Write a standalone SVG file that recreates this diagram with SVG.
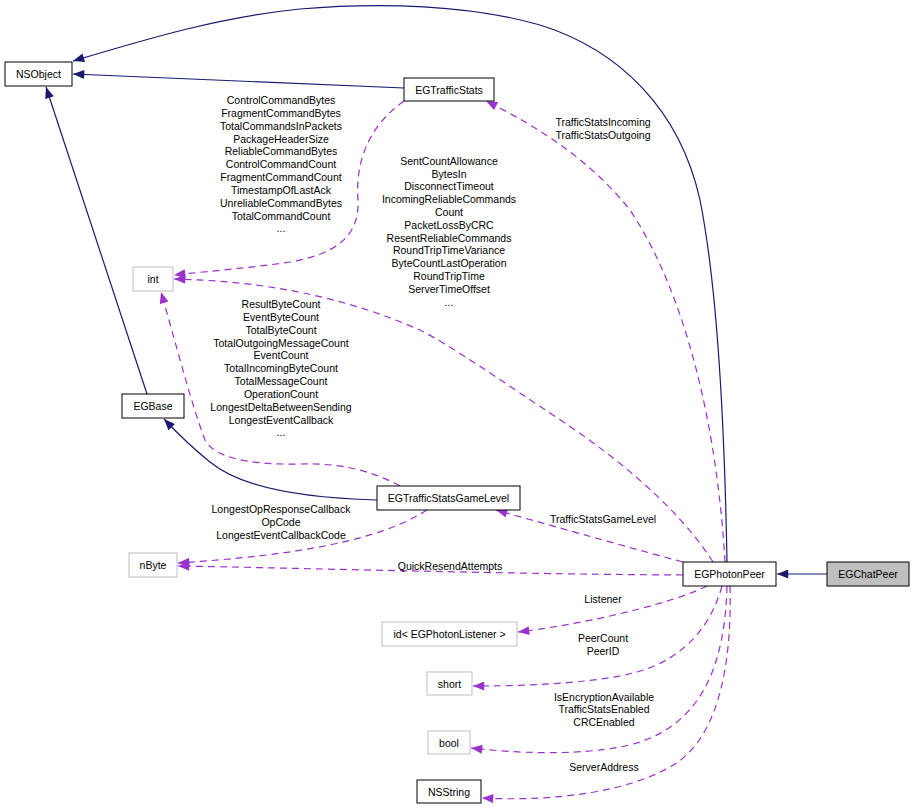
<svg xmlns="http://www.w3.org/2000/svg" width="915" height="810" viewBox="0 0 915 810">
<style>
text{font-family:"Liberation Sans",Arial,sans-serif;font-size:10.5px;fill:#000;text-anchor:middle}
.n rect{fill:#fff;stroke:#000;stroke-width:1}
.g rect{fill:#fff;stroke:#bfbfbf;stroke-width:1}
.inh{fill:none;stroke:#191970;stroke-width:1.2}
.use{fill:none;stroke:#9a32cd;stroke-width:1.2;stroke-dasharray:7,5}
</style>
<defs>
<marker id="ab" viewBox="0 0 10 8" refX="10" refY="4" markerWidth="12" markerHeight="9" markerUnits="userSpaceOnUse" orient="auto"><path d="M0,0 L10,4 L0,8 z" fill="#191970"/></marker>
<marker id="ap" viewBox="0 0 10 8" refX="10" refY="4" markerWidth="12" markerHeight="9" markerUnits="userSpaceOnUse" orient="auto"><path d="M0,0 L10,4 L0,8 z" fill="#9a32cd"/></marker>
</defs>
<rect width="915" height="810" fill="#fff"/>
<g id="connectors">
<path class="inh" marker-end="url(#ab)" d="M727,562 C725,450 720,300 700,200 C680,110 620,50 540,25 C470,5 380,2 300,9 C220,17 150,38 73,61"/>
<path class="inh" marker-end="url(#ab)" d="M404,88 L73,74"/>
<path class="inh" marker-end="url(#ab)" d="M147,394 L46,87"/>
<path class="inh" marker-end="url(#ab)" d="M377,500 C300,498 240,487 210,462 C195,450 180,436 164,419"/>
<path class="inh" marker-end="url(#ab)" d="M827,574 L777,574"/>
<path class="use" marker-end="url(#ap)" d="M404,101 C370,125 355,160 358,200 C360,240 330,255 290,262 C250,268 210,271 174,275"/>
<path class="use" marker-end="url(#ap)" d="M713,562 C680,510 620,460 565,423 C500,380 450,345 420,330 C340,295 260,281 174,279"/>
<path class="use" marker-end="url(#ap)" d="M400,486 C370,470 340,463 300,464 C240,465 213,455 205,440 C190,400 175,340 161,292"/>
<path class="use" marker-end="url(#ap)" d="M725,562 C718,440 690,300 630,210 C590,160 540,128 486,101"/>
<path class="use" marker-end="url(#ap)" d="M683,562 C620,545 560,528 496,510"/>
<path class="use" marker-end="url(#ap)" d="M427,510 C380,540 300,555 178,563"/>
<path class="use" marker-end="url(#ap)" d="M683,575 C500,574 300,568 178,566"/>
<path class="use" marker-end="url(#ap)" d="M707,586 C680,600 600,622 518,632"/>
<path class="use" marker-end="url(#ap)" d="M722,586 C710,630 680,660 637,672 C600,682 540,686 473,686"/>
<path class="use" marker-end="url(#ap)" d="M727,586 C725,660 705,720 640,742 C600,755 530,755 471,748"/>
<path class="use" marker-end="url(#ap)" d="M730,586 C732,660 720,740 670,767 C630,790 560,802 482,798"/>
</g>
<g id="labels">
<text x="281" y="104">ControlCommandBytes</text>
<text x="281" y="117">FragmentCommandBytes</text>
<text x="281" y="130">TotalCommandsInPackets</text>
<text x="281" y="143">PackageHeaderSize</text>
<text x="281" y="155">ReliableCommandBytes</text>
<text x="281" y="168">ControlCommandCount</text>
<text x="281" y="181">FragmentCommandCount</text>
<text x="281" y="194">TimestampOfLastAck</text>
<text x="281" y="207">UnreliableCommandBytes</text>
<text x="281" y="220">TotalCommandCount</text>
<text x="281" y="232">...</text>
<text x="449" y="165">SentCountAllowance</text>
<text x="449" y="178">BytesIn</text>
<text x="449" y="190">DisconnectTimeout</text>
<text x="449" y="203">IncomingReliableCommands</text>
<text x="449" y="216">Count</text>
<text x="449" y="229">PacketLossByCRC</text>
<text x="449" y="242">ResentReliableCommands</text>
<text x="449" y="254">RoundTripTimeVariance</text>
<text x="449" y="267">ByteCountLastOperation</text>
<text x="449" y="280">RoundTripTime</text>
<text x="449" y="293">ServerTimeOffset</text>
<text x="449" y="306">...</text>
<text x="281" y="308">ResultByteCount</text>
<text x="281" y="321">EventByteCount</text>
<text x="281" y="334">TotalByteCount</text>
<text x="281" y="347">TotalOutgoingMessageCount</text>
<text x="281" y="359">EventCount</text>
<text x="281" y="372">TotalIncomingByteCount</text>
<text x="281" y="385">TotalMessageCount</text>
<text x="281" y="398">OperationCount</text>
<text x="281" y="411">LongestDeltaBetweenSending</text>
<text x="281" y="424">LongestEventCallback</text>
<text x="281" y="436">...</text>
<text x="281" y="513">LongestOpResponseCallback</text>
<text x="281" y="526">OpCode</text>
<text x="281" y="539">LongestEventCallbackCode</text>
<text x="603" y="126">TrafficStatsIncoming</text>
<text x="603" y="139">TrafficStatsOutgoing</text>
<text x="603" y="523">TrafficStatsGameLevel</text>
<text x="450" y="570">QuickResendAttempts</text>
<text x="603" y="603">Listener</text>
<text x="603" y="642">PeerCount</text>
<text x="603" y="655">PeerID</text>
<text x="604" y="701">IsEncryptionAvailable</text>
<text x="604" y="713">TrafficStatsEnabled</text>
<text x="604" y="726">CRCEnabled</text>
<text x="604" y="771">ServerAddress</text>
</g>
<g id="NSObject" class="n"><rect x="5" y="62" width="67" height="24"/><text x="38.5" y="78">NSObject</text></g>
<g id="EGTrafficStats" class="n"><rect x="404" y="78" width="90" height="23"/><text x="449" y="93.5">EGTrafficStats</text></g>
<g id="int" class="g"><rect x="133" y="267" width="40" height="24"/><text x="153" y="283">int</text></g>
<g id="EGBase" class="n"><rect x="122" y="394" width="62" height="24"/><text x="153" y="410">EGBase</text></g>
<g id="EGTrafficStatsGameLevel" class="n"><rect x="377" y="486" width="143" height="24"/><text x="448.5" y="502">EGTrafficStatsGameLevel</text></g>
<g id="nByte" class="g"><rect x="129" y="553" width="48" height="24"/><text x="153" y="569">nByte</text></g>
<g id="EGPhotonPeer" class="n"><rect x="683" y="562" width="93" height="24"/><text x="729.5" y="578">EGPhotonPeer</text></g>
<g id="EGChatPeer" class="n"><rect x="827" y="562" width="82" height="24" style="fill:#bfbfbf"/><text x="868" y="578">EGChatPeer</text></g>
<g id="EGPhotonListener" class="g"><rect x="382" y="622" width="135" height="24"/><text x="449.5" y="638">id&lt; EGPhotonListener &gt;</text></g>
<g id="short" class="g"><rect x="427" y="672" width="45" height="23"/><text x="449.5" y="687.5">short</text></g>
<g id="bool" class="g"><rect x="428" y="731" width="42" height="23"/><text x="449" y="746.5">bool</text></g>
<g id="NSString" class="n"><rect x="417" y="780" width="64" height="23"/><text x="449" y="795.5">NSString</text></g>
</svg>
